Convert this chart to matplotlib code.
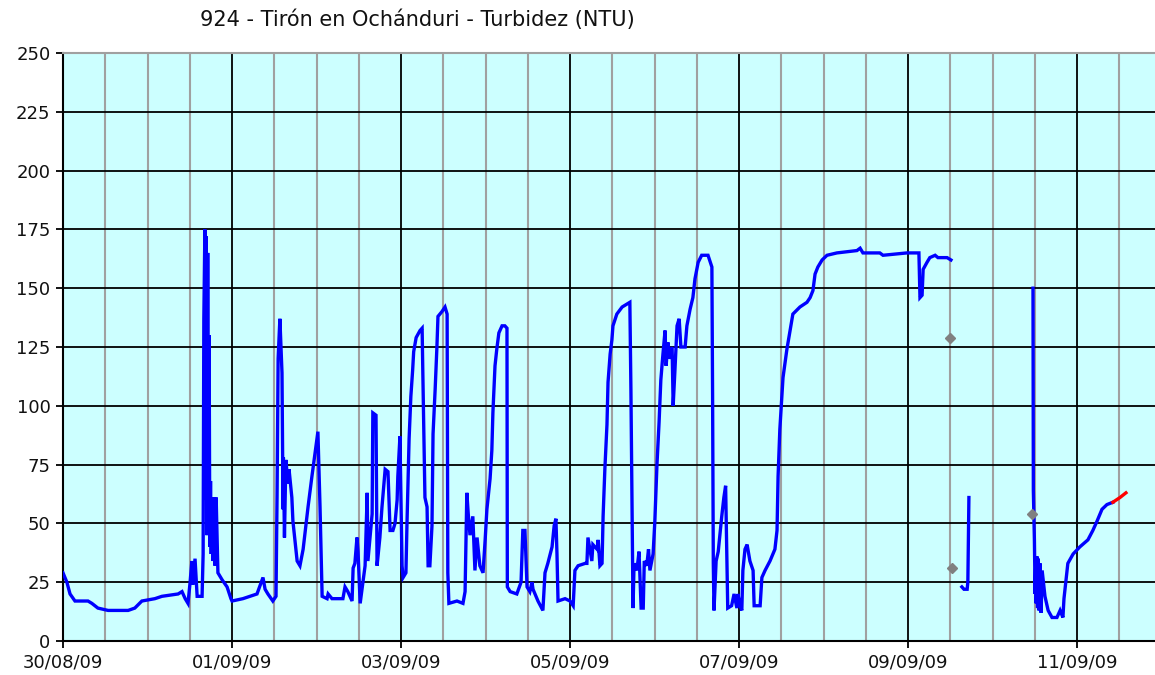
import numpy as np
import pandas as pd
import matplotlib
matplotlib.use("Agg")
import matplotlib.pyplot as plt
import matplotlib.dates as mdates
from matplotlib.ticker import FixedLocator

# ---------------- data ----------------
start = "2009-08-30 00:00"
title = "924 - Tirón en Ochánduri - Turbidez (NTU)"

# hours since start, turbidity (NTU); NaN = gap in the record
hours = [
    0.0, 1.1, 2.0, 3.4, 7.1, 8.2, 9.9, 12.8, 18.5, 20.4, 22.4, 26.1, 28.1, 32.7, 33.8, 34.7,
    35.5, 36.1, 36.6, 36.9, 37.5, 38.1, 39.5, 39.8, 40.0, 40.3, 40.5, 40.7, 40.9, 41.1, 41.3,
    41.5, 41.7, 41.9, 42.1, 42.3, 42.6, 42.9, 43.2, 43.5, 44.0, 45.2, 46.6, 47.7, 48.0,
    51.1, 55.1, 56.8, 57.4, 58.2, 59.6, 60.5, 60.8, 61.1, 61.6, 62.2, 62.5, 62.6, 62.9, 63.3,
    63.9, 64.2, 65.0, 65.3, 66.5, 67.3, 68.2, 69.6, 70.7, 71.6, 72.4, 73.0, 73.6, 75.0, 75.3,
    76.4, 79.5, 80.1, 80.9, 82.1, 82.4, 82.9, 83.5, 83.8, 84.4, 85.2, 85.8, 86.4, 86.6, 87.8,
    88.0, 88.9, 89.2, 90.0, 90.6, 91.5, 92.3, 92.9, 93.7, 94.3, 94.9, 95.1, 95.7, 96.3, 96.6,
    97.4, 97.7, 98.3, 98.8, 99.3, 99.6, 100.3, 101.4, 102.0, 102.2, 102.8, 103.4, 103.7, 104.2,
    104.8, 105.1, 105.7, 106.2, 106.5, 107.6, 108.5, 109.1, 109.3, 109.6, 111.9, 113.6, 114.2,
    114.7, 115.1, 115.6, 116.4, 117.0, 117.6, 118.4, 119.3, 119.9, 120.4, 121.3, 121.8, 122.1,
    122.7, 123.2, 123.8, 124.7, 125.5, 126.1, 126.2, 127.0, 128.9, 130.1, 130.6, 131.2, 131.8,
    132.6, 133.2, 133.5, 134.9, 136.3, 136.9, 137.7, 138.9, 139.5, 140.0, 140.3, 140.6, 142.6,
    144.0, 144.9, 145.4, 146.3, 148.3, 148.8, 149.1, 150.2, 150.5, 151.7, 152.0, 152.5, 153.1,
    153.4, 153.9, 154.5, 154.8, 155.4, 155.9, 156.2, 157.3, 158.8, 161.0, 161.3, 161.9, 162.2,
    163.0, 163.6, 164.2, 164.8, 165.1, 165.8, 166.3, 166.7, 167.6, 168.1, 168.7, 169.3, 169.8,
    170.4, 171.0, 171.3, 171.8, 172.1, 173.0, 173.3, 173.8, 174.4, 175.0, 175.5, 176.7, 177.2,
    178.1, 178.9, 179.5, 180.4, 181.4, 183.2, 184.3, 184.5, 184.7, 184.9, 185.5, 186.1, 187.1,
    187.7, 188.2, 188.5, 188.8, 189.9, 190.6, 191.4, 191.7, 192.3, 192.8, 193.1, 193.7, 194.3,
    195.1, 196.0, 196.3, 198.0, 198.5, 199.4, 200.8, 202.2, 202.8, 203.1, 203.6, 204.5, 205.6,
    206.5, 207.3, 209.3, 211.3, 212.2, 213.0, 213.6, 214.4, 215.6, 217.0, 219.8, 225.5, 226.4,
    227.2, 232.0, 232.9, 239.7, 243.1, 243.4, 244.0, 244.3, 245.4, 246.2, 247.7, 248.5, 251.1,
    252.2, 253.5,
    255.3, 255.9, 256.8, 257.0, 257.3, 258.0,
    275.5, 275.6, 275.9, 276.1, 276.3, 276.4, 276.6, 276.8, 277.0, 277.2, 277.5, 277.8, 278.1,
    278.9, 279.8, 280.9, 282.3, 283.2,
    284.0, 284.3, 284.9, 285.4, 286.9, 288.8, 291.1, 292.5, 293.7, 295.1, 296.5, 298.2,
]
values = [
    29, 25, 20, 17, 17, 16, 14, 13, 13, 14, 17, 18, 19, 20, 21, 18,
    16, 25, 34, 24, 35, 19, 19, 37, 137, 175, 60, 172, 45, 165, 50,
    130, 40, 68, 37, 61, 34, 61, 32, 61, 29, 26, 23, 18, 17,
    18, 20, 27, 22, 20, 17, 19, 62, 120, 137, 114, 56, 78, 44, 77,
    67, 73, 61, 51, 34, 32, 39, 57, 70, 80, 89, 57, 19, 18, 20,
    18, 18, 23, 21, 17, 31, 33, 44, 38, 16, 25, 32, 63, 34, 54,
    97, 96, 32, 44, 57, 73, 72, 47, 47, 50, 60, 70, 87, 32, 27,
    29, 50, 86, 104, 115, 123, 129, 132, 133, 114, 61, 57, 32, 32,
    49, 88, 107, 125, 138, 140, 142, 139, 29, 16, 17, 16, 21,
    63, 54, 45, 53, 30, 44, 32, 29, 43, 56, 69, 81, 97,
    117, 124, 131, 134, 134, 133, 23, 21, 20, 25, 47, 47, 23,
    21, 25, 22, 17, 13, 29, 33, 40, 49, 52, 37, 17, 18,
    17, 15, 30, 32, 33, 33, 44, 34, 41, 39, 43, 32, 33,
    53, 73, 92, 110, 122, 128, 134, 139, 142, 144, 107, 14, 33,
    30, 38, 14, 14, 34, 32, 39, 30, 37, 51, 75, 93, 111,
    122, 132, 117, 127, 120, 125, 100, 115, 134, 137, 125, 125, 134,
    141, 146, 154, 161, 164, 164, 159, 104, 33, 13, 34, 38, 53,
    61, 66, 39, 14, 15, 20, 14, 20, 15, 13, 30, 39, 41,
    34, 30, 15, 15, 27, 30, 34, 39, 47, 70, 90, 112, 124,
    132, 139, 142, 144, 146, 149, 156, 159, 162, 164, 165, 166, 167,
    165, 165, 164, 165, 165, 146, 147, 158, 161, 163, 164, 163, 163,
    162, np.nan,
    23, 22, 22, 25, 61, np.nan,
    150, 64, 43, 20, 34, 16, 36, 14, 35, 13, 33, 12, 30,
    19, 13, 10, 10, 13,
    10, 18, 26, 33, 37, 40, 43, 47, 51, 56, 58, 59,
]

# provisional (red) tail
red_hours = [298.2, 300.2, 301.9]
red_values = [59, 61, 63]

# isolated grey points
pt_hours = [251.9, 252.5, 275.2]
pt_values = [129, 31, 54]

tick_dates = ["2009-08-30", "2009-09-01", "2009-09-03", "2009-09-05",
              "2009-09-07", "2009-09-09", "2009-09-11"]
tick_labels = ["30/08/09", "01/09/09", "03/09/09", "05/09/09",
               "07/09/09", "09/09/09", "11/09/09"]
y_ticks = [0, 25, 50, 75, 100, 125, 150, 175, 200, 225, 250]

# ---------------- plot ----------------
t0 = pd.Timestamp(start)


def to_num(h):
    return mdates.date2num((t0 + pd.to_timedelta(np.asarray(h, dtype=float), unit="h")).to_pydatetime())


fig = plt.figure(figsize=(11.55, 6.75), dpi=100)
ax = fig.add_axes([63 / 1155, 34 / 675, 1 - 63 / 1155, 588 / 675])
ax.set_facecolor("#CCFFFF")

ax.plot(to_num(hours), values, color="#0000FF", lw=2.4, zorder=3,
        solid_joinstyle="miter")
ax.plot(to_num(red_hours), red_values, color="#FF0000", lw=2.4, zorder=4)
ax.plot(to_num(pt_hours), pt_values, ls="none", marker="D", ms=5.5,
        color="#808080", mec="#808080", zorder=5)

x0 = mdates.date2num(t0.to_pydatetime())
ax.set_xlim(x0, x0 + 1092 / 84.5)
ax.set_ylim(0, 250)

major = [mdates.date2num(pd.Timestamp(d).to_pydatetime()) for d in tick_dates]
minor = [mdates.date2num(d.to_pydatetime()) for d in
         pd.date_range(t0, periods=27, freq="12h")]
ax.xaxis.set_major_locator(FixedLocator(major))
ax.xaxis.set_minor_locator(FixedLocator(minor))
ax.set_xticks(major)
ax.set_xticklabels(tick_labels)
ax.set_yticks(y_ticks)

ax.set_axisbelow(True)
ax.grid(which="minor", axis="x", color="#A0A0A0", lw=1.5)
ax.grid(which="major", axis="x", color="#000000", lw=1.3)
ax.grid(which="major", axis="y", color="#000000", lw=1.3)

ax.tick_params(axis="both", which="major", direction="out", length=5, width=1.3,
               color="black", labelsize=13, labelcolor="#111111", pad=4)
ax.tick_params(axis="x", which="minor", length=0)

for s in ["left", "bottom"]:
    ax.spines[s].set_color("black")
    ax.spines[s].set_linewidth(1.5)
ax.spines["top"].set_color("#A0A0A0")
ax.spines["top"].set_linewidth(1.5)
ax.spines["right"].set_visible(False)

fig.text(200 / 1155, 1 - 20 / 675, title, ha="left", va="center",
         fontsize=15, color="#111111")

fig.savefig("out.png", dpi=100)
